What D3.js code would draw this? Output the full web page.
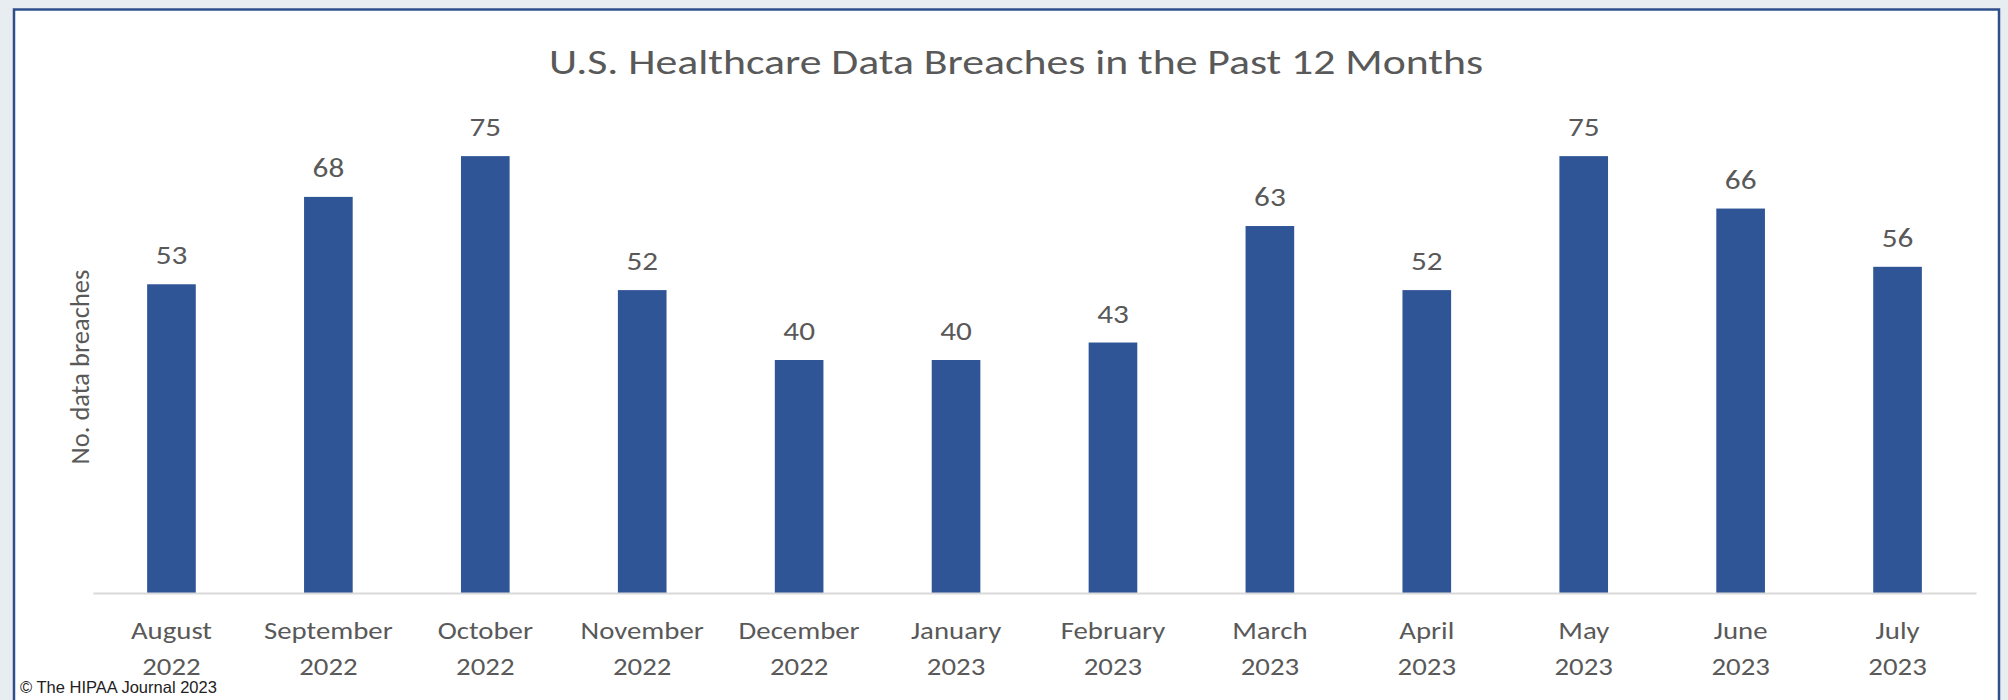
<!DOCTYPE html>
<html>
<head>
<meta charset="utf-8">
<script src="https://cdn.jsdelivr.net/npm/d3@7"></script>
<style>
  html, body { margin: 0; padding: 0; background: #e8edf1; }
  svg { display: block; }
  .lbl { font-family: Carlito, Calibri, Lato, sans-serif; fill: #595959; }
</style>
</head>
<body>
<script>
// chart data
var months = ["August", "September", "October", "November", "December", "January",
              "February", "March", "April", "May", "June", "July"];
var years = ["2022", "2022", "2022", "2022", "2022", "2023",
             "2023", "2023", "2023", "2023", "2023", "2023"];
var breaches = [53, 68, 75, 52, 40, 40, 43, 63, 52, 75, 66, 56];
var yDomain = [0, 80];

var width = 2008, height = 700;
// the source picture is a little stretched sideways
var stretch = 1.2;

let svg = d3.select("body").append("svg")
    .attr("width", width)
    .attr("height", height);

// white panel with blue frame
svg.append("rect")
    .attr("x", 14).attr("y", 9.5)
    .attr("width", 1985).attr("height", 700)
    .attr("fill", "#ffffff")
    .attr("stroke", "#2f4f8c")
    .attr("stroke-width", 2.5);

var keys = months.map(function(m, i) { return i; });

var x = d3.scaleBand()
    .domain(keys)
    .range([93, 1976])
    .paddingInner(0.69)
    .paddingOuter(0.345);

var y = d3.scaleLinear()
    .domain(yDomain)
    .range([593, 127]);

// bars
svg.selectAll(".bar")
    .data(breaches)
    .enter().append("rect")
    .attr("class", "bar")
    .attr("x", function(d, i) { return x(i); })
    .attr("y", function(d) { return y(d); })
    .attr("width", x.bandwidth())
    .attr("height", function(d) { return y(0) - y(d); })
    .attr("fill", "#2f5597");

// value labels
svg.selectAll(".val")
    .data(breaches)
    .enter().append("text")
    .attr("class", "lbl val")
    .attr("transform", function(d, i) {
        return "translate(" + (x(i) + x.bandwidth() / 2) + "," + (y(d) - 20) + ") scale(" + stretch + ",1)";
    })
    .attr("text-anchor", "middle")
    .style("font-size", "26px")
    .text(function(d) { return d; });

// x axis, drawn with d3 then restyled
var xAxis = d3.axisBottom(x).tickSize(0).tickFormat("");
var gx = svg.append("g")
    .attr("transform", "translate(0," + y(0) + ")")
    .call(xAxis);
gx.select(".domain").attr("stroke", "#d9d9d9").attr("stroke-width", 2);

var ticks = gx.selectAll(".tick text")
    .attr("class", "lbl")
    .style("font-size", "24px")
    .attr("y", 0)
    .attr("dy", 0)
    .attr("transform", "scale(" + stretch + ",1)")
    .text(null);
ticks.append("tspan")
    .attr("x", 0).attr("y", 46)
    .text(function(d) { return months[d]; });
ticks.append("tspan")
    .attr("x", 0).attr("y", 82)
    .text(function(d) { return years[d]; });

// title
svg.append("text")
    .attr("class", "lbl")
    .attr("transform", "translate(1016,74) scale(1.25,1)")
    .attr("text-anchor", "middle")
    .style("font-size", "35px")
    .text("U.S. Healthcare Data Breaches in the Past 12 Months");

// y axis title
svg.append("text")
    .attr("class", "lbl")
    .attr("transform", "translate(89,367) rotate(-90)")
    .attr("text-anchor", "middle")
    .style("font-size", "26.5px")
    .text("No. data breaches");

// copyright
svg.append("text")
    .attr("x", 20)
    .attr("y", 693)
    .style("font-family", "Arial, 'Liberation Sans', sans-serif")
    .style("font-size", "16.5px")
    .attr("fill", "#222")
    .text("\u00A9 The HIPAA Journal 2023");
</script>
</body>
</html>
